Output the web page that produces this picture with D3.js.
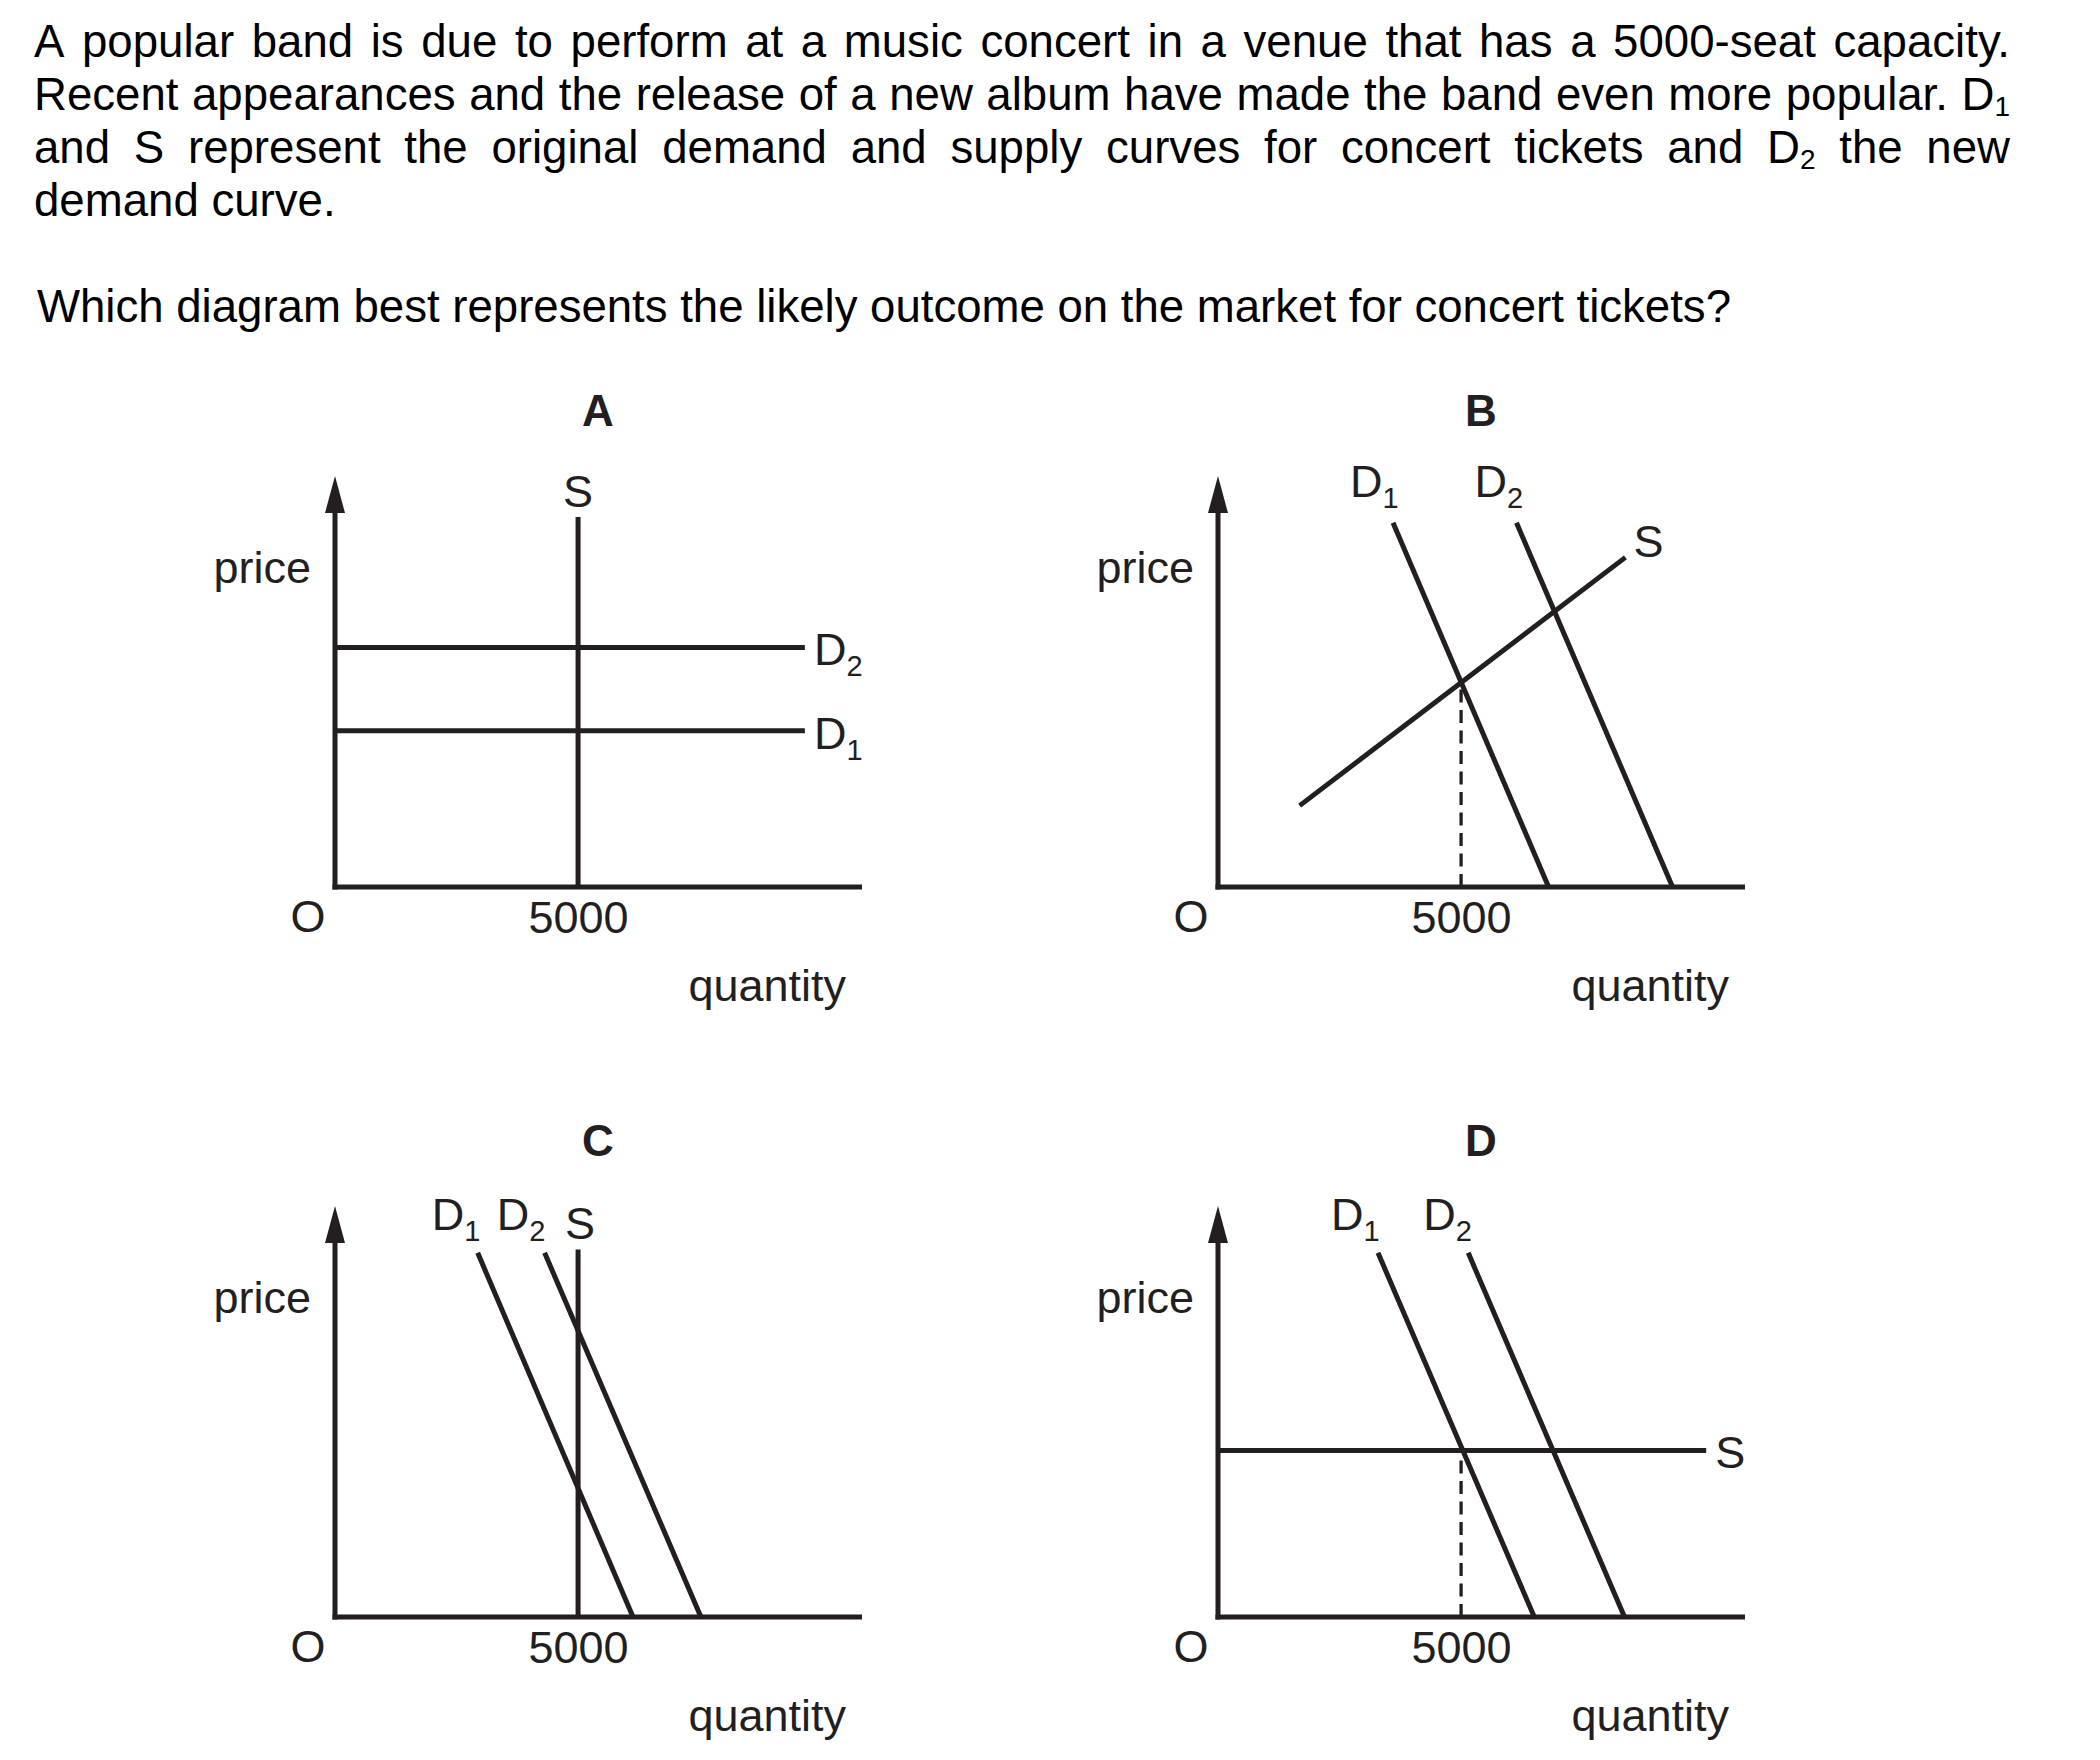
<!DOCTYPE html>
<html><head><meta charset="utf-8">
<script src="https://cdn.jsdelivr.net/npm/d3@7"></script>
<style>body{margin:0;background:#fff} svg{display:block}</style>
</head><body>
<svg id="c" width="2100" height="1760"></svg>
<script>
// ---------------- data ----------------
const questionLines = [
  "A popular band is due to perform at a music concert in a venue that has a 5000-seat capacity.",
  "Recent appearances and the release of a new album have made the band even more popular. D_1",
  "and S represent the original demand and supply curves for concert tickets and D_2 the new",
  "demand curve."
];
const questionPrompt = "Which diagram best represents the likely outcome on the market for concert tickets?";
const panelLetters = ["A", "B", "C", "D"];
const axisNames = ["quantity", "price", "O"];
const quantityTicks = [5000];
const quantityMax = 10840;
const priceMax = 100;

// curves: [quantity, price] end points
const curvesA = [
  {name: "S",   pts: [[5000, 0], [5000, 90]]},
  {name: "D_2", pts: [[0, 58.3], [9665, 58.3]]},
  {name: "D_1", pts: [[0, 38], [9665, 38]]}
];
const curvesB = [
  {name: "D_1", pts: [[3600, 88.6], [6800, 0]]},
  {name: "D_2", pts: [[6140, 88.6], [9350, 0]]},
  {name: "S",   pts: [[1680, 19.8], [8380, 80.2]]}
];
const curvesC = [
  {name: "D_1", pts: [[2935, 88.6], [6130, 0]]},
  {name: "D_2", pts: [[4312, 88.6], [7527, 0]]},
  {name: "S",   pts: [[5000, 0], [5000, 89.4]]}
];
const curvesD = [
  {name: "D_1", pts: [[3291, 88.6], [6506, 0]]},
  {name: "D_2", pts: [[5147, 88.6], [8362, 0]]},
  {name: "S",   pts: [[0, 40.5], [10042, 40.5]]}
];
const guidesB = [[[5000, 0], [5000, 50]]];
const guidesD = [[[5000, 0], [5000, 40.5]]];

// ---------------- layout ----------------
const INK = "#231f20";
const FONT = "'Liberation Sans', Arial, Helvetica, sans-serif";
const svg = d3.select("#c").attr("font-family", FONT);

function rich(sel, str, subSize, subDy) {
  const parts = str.split("_");
  sel.append("tspan").text(parts[0]);
  if (parts.length > 1) sel.append("tspan").attr("font-size", subSize).attr("dy", subDy).text(parts[1]);
  return sel;
}

// question text, justified
const TFS = 45.6;
function measure(word) {
  const t = svg.append("text").attr("font-size", TFS);
  rich(t, word, 28, 6);
  const w = t.node().getComputedTextLength();
  t.remove();
  return w;
}
const leftX = 34, rightX = 2010, baseY = 57, lineH = 53;
questionLines.forEach((line, i) => {
  const words = line.split(" ");
  const widths = words.map(measure);
  const total = d3.sum(widths);
  const justify = i < questionLines.length - 1;
  const gap = justify ? (rightX - leftX - total) / (words.length - 1) : TFS * 0.278;
  let x = leftX;
  words.forEach((w, j) => {
    const t = svg.append("text").attr("x", x).attr("y", baseY + i * lineH)
      .attr("font-size", TFS).attr("fill", "#000");
    rich(t, w, 28, 6);
    x += widths[j] + gap;
  });
});
svg.append("text").attr("x", 37).attr("y", 322).attr("font-size", TFS).attr("fill", "#000")
  .attr("textLength", 1694).attr("lengthAdjust", "spacing")
  .text(questionPrompt);

// panels
const W = 527, H = 411;
const xScale = d3.scaleLinear().domain([0, quantityMax]).range([0, W]);
const yScale = d3.scaleLinear().domain([0, priceMax]).range([0, -H]);
const line = d3.line().x(d => xScale(d[0])).y(d => yScale(d[1]));

const panels = [
  {letter: panelLetters[0], ox: 335, oy: 887, curves: curvesA, guides: [],
   labels: [{at: 1, dx: 0, dy: -10, anchor: "middle"}, {at: 1, dx: 9, dy: 18, anchor: "start"}, {at: 1, dx: 9, dy: 18, anchor: "start"}]},
  {letter: panelLetters[1], ox: 1218, oy: 887, curves: curvesB, guides: guidesB,
   labels: [{at: 0, dx: -43, dy: -26, anchor: "start"}, {at: 0, dx: -42, dy: -26, anchor: "start"}, {at: 1, dx: 8, dy: 0, anchor: "start"}]},
  {letter: panelLetters[2], ox: 335, oy: 1617, curves: curvesC, guides: [],
   labels: [{at: 0, dx: -46, dy: -23, anchor: "start"}, {at: 0, dx: -48, dy: -23, anchor: "start"}, {at: 1, dx: 2, dy: -11, anchor: "middle"}]},
  {letter: panelLetters[3], ox: 1218, oy: 1617, curves: curvesD, guides: guidesD,
   labels: [{at: 0, dx: -47, dy: -23, anchor: "start"}, {at: 0, dx: -45, dy: -23, anchor: "start"}, {at: 1, dx: 9, dy: 17, anchor: "start"}]}
];

const LFS = 45;
panels.forEach(p => {
  const g = svg.append("g").attr("transform", `translate(${p.ox},${p.oy})`);

  // title letter
  g.append("text").attr("x", 263).attr("y", yScale(priceMax) - 50)
    .attr("text-anchor", "middle").attr("font-size", 44).attr("font-weight", "bold")
    .attr("fill", INK).text(p.letter);

  // x axis via d3 axis
  const ax = d3.axisBottom(xScale).tickValues(quantityTicks).tickSize(0).tickSizeOuter(0)
    .tickPadding(14).tickFormat(d3.format("d"));
  const axG = g.append("g").call(ax);
  axG.select(".domain").remove();
  axG.selectAll("text").attr("font-size", LFS).attr("font-family", FONT).attr("fill", INK);
  g.append("line").attr("x1", xScale(0) - 2.5).attr("x2", xScale(quantityMax))
    .attr("y1", yScale(0)).attr("y2", yScale(0)).attr("stroke", INK).attr("stroke-width", 5);

  // y axis with arrow
  const tip = yScale(priceMax);
  g.append("line").attr("x1", 0).attr("x2", 0).attr("y1", yScale(0) + 2.5).attr("y2", tip + 30)
    .attr("stroke", INK).attr("stroke-width", 5);
  g.append("path").attr("d", `M0,${tip}L-10,${tip + 37}L10,${tip + 37}Z`).attr("fill", INK);

  // axis names
  g.append("text").attr("x", W - 16).attr("y", 114).attr("text-anchor", "end")
    .attr("font-size", LFS).attr("fill", INK).text(axisNames[0]);
  g.append("text").attr("x", -24).attr("y", tip + 107).attr("text-anchor", "end")
    .attr("font-size", LFS).attr("fill", INK).text(axisNames[1]);
  g.append("text").attr("x", -27).attr("y", 45).attr("text-anchor", "middle")
    .attr("font-size", LFS).attr("fill", INK).text(axisNames[2]);

  // dashed guides
  p.guides.forEach(gd => {
    g.append("path").attr("d", line(gd)).attr("fill", "none").attr("stroke", INK)
      .attr("stroke-width", 3.3).attr("stroke-dasharray", "13,7.5");
  });

  // curves
  p.curves.forEach((c, i) => {
    g.append("path").attr("d", line(c.pts)).attr("fill", "none")
      .attr("stroke", INK).attr("stroke-width", 5);
    const L = p.labels[i];
    const pt = c.pts[L.at];
    const t = g.append("text").attr("x", xScale(pt[0]) + L.dx).attr("y", yScale(pt[1]) + L.dy)
      .attr("text-anchor", L.anchor).attr("font-size", LFS).attr("fill", INK);
    rich(t, c.name, 29, 11);
  });
});
</script>
</body></html>
